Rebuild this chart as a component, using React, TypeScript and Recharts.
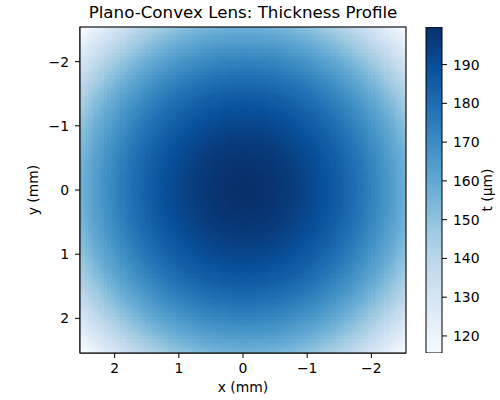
import React from 'react';
import { ScatterChart, Scatter, BarChart, Bar, XAxis, YAxis } from 'recharts';

// radial thickness profile (r in mm, t in µm)
const radiusMm = [0, 0.25, 0.5, 0.75, 1.0, 1.25, 1.5, 1.75, 2.0, 2.25, 2.5, 2.75, 3.0, 3.25, 3.5, 3.75];
const thicknessUm = [199.7, 199.3, 198.0, 196.0, 193.0, 189.3, 184.7, 179.3, 173.0, 166.0, 158.0, 149.3, 139.7, 129.3, 118.0, 105.9];

const axisTicks = [-2, -1, 0, 1, 2];
const colorbarTicks = [120, 130, 140, 150, 160, 170, 180, 190];
const tMin = 115.6;
const tMax = 199.7;
const extent = 2.54;
const gridN = 100;

// matplotlib "Blues"
const blues = ['#f7fbff', '#deebf7', '#c6dbef', '#9ecae1', '#6baed6', '#4292c6', '#2171b5', '#08519c', '#08306b'];

const hexToRgb = (h: string) => [1, 3, 5].map((i) => parseInt(h.slice(i, i + 2), 16));

const bluesColor = (t: number) => {
  let f = (t - tMin) / (tMax - tMin);
  f = Math.max(0, Math.min(1, f));
  const pos = f * (blues.length - 1);
  const i = Math.min(Math.floor(pos), blues.length - 2);
  const k = pos - i;
  const a = hexToRgb(blues[i]);
  const b = hexToRgb(blues[i + 1]);
  const c = a.map((v, j) => Math.round(v + (b[j] - v) * k));
  return `rgb(${c[0]},${c[1]},${c[2]})`;
};

const thicknessAt = (r: number) => {
  for (let i = 0; i < radiusMm.length - 1; i++) {
    if (r <= radiusMm[i + 1]) {
      const k = (r - radiusMm[i]) / (radiusMm[i + 1] - radiusMm[i]);
      return thicknessUm[i] + (thicknessUm[i + 1] - thicknessUm[i]) * k;
    }
  }
  return thicknessUm[thicknessUm.length - 1];
};

const step = (2 * extent) / gridN;
const cells: { x: number; y: number; color: string }[] = [];
for (let iy = 0; iy < gridN; iy++) {
  for (let ix = 0; ix < gridN; ix++) {
    const x = -extent + step * (ix + 0.5);
    const y = -extent + step * (iy + 0.5);
    cells.push({ x, y, color: bluesColor(thicknessAt(Math.hypot(x, y))) });
  }
}

const colorbarData = [{ k: 't', range: [tMin, tMax] }];

const PLOT_L = 80;
const PLOT_R = 406;
const PLOT_T = 27;
const PLOT_B = 353;
const cellW = (PLOT_R - PLOT_L) / gridN;
const cellH = (PLOT_B - PLOT_T) / gridN;

const fmt = (v: number) => (v < 0 ? '\u2212' + Math.abs(v) : String(v));
const tickStyle = { fill: '#000', fontSize: 13.9 };

const CellShape = (props: any) => (
  <rect
    x={Math.floor(props.cx - cellW / 2)}
    y={Math.floor(props.cy - cellH / 2)}
    width={Math.ceil(cellW) + 1}
    height={Math.ceil(cellH) + 1}
    fill={props.payload.color}
    shapeRendering="crispEdges"
  />
);

export default function App() {
  return (
    <div style={{ position: 'absolute', left: 0, top: 0, width: 500, height: 400, background: '#fff', fontFamily: '"DejaVu Sans", sans-serif' }}>
      <div style={{ position: 'absolute', left: 0, top: 0 }}>
        <ScatterChart width={500} height={400} margin={{ top: PLOT_T, right: 500 - PLOT_R, bottom: 17, left: 30 }}>
          <XAxis
            type="number"
            dataKey="x"
            domain={[-extent, extent]}
            reversed
            allowDataOverflow
            ticks={axisTicks}
            tickFormatter={fmt}
            height={30}
            tick={tickStyle}
            tickSize={5}
            tickMargin={5}
            stroke="#000"
            label={{ content: () => <text x={(PLOT_L + PLOT_R) / 2} y={392} textAnchor="middle" fontSize={13.9} fill="#000">x (mm)</text> }}
          />
          <YAxis
            type="number"
            dataKey="y"
            domain={[-extent, extent]}
            reversed
            allowDataOverflow
            ticks={axisTicks}
            tickFormatter={fmt}
            width={50}
            tick={tickStyle}
            tickSize={5}
            tickMargin={6}
            stroke="#000"
            label={{ content: () => <text x={34} y={190} transform="rotate(-90 34 190)" textAnchor="middle" dominantBaseline="middle" fontSize={13.9} fill="#000">y (mm)</text> }}
          />
          <Scatter data={cells} shape={CellShape} isAnimationActive={false} />
        </ScatterChart>
      </div>
      <div style={{ position: 'absolute', left: 0, top: 0 }}>
        <BarChart width={500} height={400} data={colorbarData} barCategoryGap={0} margin={{ top: PLOT_T, right: 8, bottom: 47, left: 426 }}>
          <defs>
            <linearGradient id="bluesGrad" x1="0" y1="1" x2="0" y2="0">
              {blues.map((c, i) => (
                <stop key={i} offset={i / (blues.length - 1)} stopColor={c} />
              ))}
            </linearGradient>
          </defs>
          <XAxis dataKey="k" hide />
          <YAxis
            type="number"
            orientation="right"
            domain={[tMin, tMax]}
            allowDataOverflow
            ticks={colorbarTicks}
            width={50}
            tick={tickStyle}
            tickSize={5}
            tickMargin={6}
            stroke="#000"
            axisLine={false}
            label={{ content: () => <text x={488} y={190} transform="rotate(-90 488 190)" textAnchor="middle" dominantBaseline="middle" fontSize={13.9} fill="#000">t (µm)</text> }}
          />
          <Bar dataKey="range" fill="url(#bluesGrad)" stroke="#000" strokeWidth={1} isAnimationActive={false} />
        </BarChart>
      </div>
      <svg width={500} height={400} style={{ position: 'absolute', left: 0, top: 0, pointerEvents: 'none' }}>
        <text x={(PLOT_L + PLOT_R) / 2} y={17.5} textAnchor="middle" fontSize={16.7} fill="#000">
          Plano-Convex Lens: Thickness Profile
        </text>
        <rect x={PLOT_L} y={PLOT_T} width={PLOT_R - PLOT_L} height={PLOT_B - PLOT_T} fill="none" stroke="#000" strokeWidth={1.1} />
      </svg>
    </div>
  );
}
